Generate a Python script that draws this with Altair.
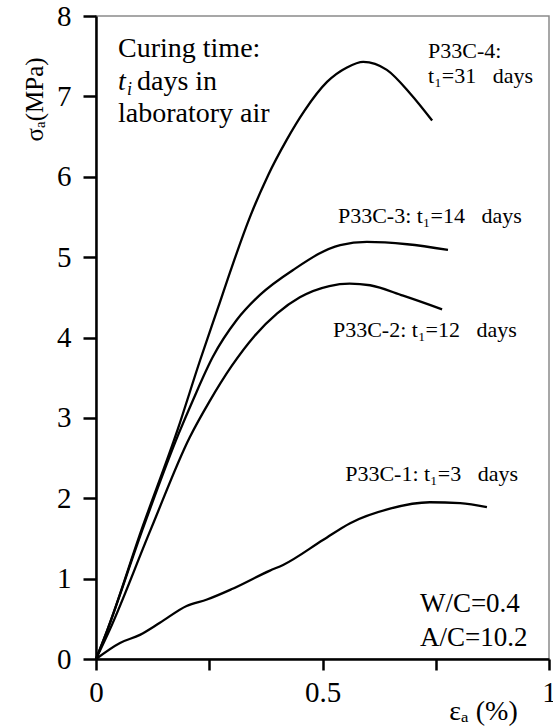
import altair as alt
import pandas as pd

# ---- curve data (strain %, stress MPa) ----
p4_strain = [0, 0.025, 0.10, 0.18, 0.23, 0.27, 0.30, 0.34, 0.38, 0.42, 0.46, 0.51, 0.554, 0.59, 0.642, 0.693, 0.742]
p4_stress = [0, 0.36, 1.60, 2.85, 3.72, 4.38, 4.88, 5.50, 6.02, 6.45, 6.82, 7.18, 7.36, 7.43, 7.33, 7.04, 6.70]

p3_strain = [0, 0.025, 0.102, 0.183, 0.214, 0.258, 0.311, 0.362, 0.435, 0.539, 0.598, 0.687, 0.777]
p3_stress = [0, 0.36, 1.60, 2.81, 3.22, 3.76, 4.22, 4.53, 4.84, 5.15, 5.19, 5.16, 5.09]

p2_strain = [0, 0.03, 0.12, 0.207, 0.25, 0.30, 0.35, 0.40, 0.45, 0.515, 0.56, 0.605, 0.678, 0.764]
p2_stress = [0, 0.36, 1.60, 2.76, 3.20, 3.65, 4.02, 4.30, 4.50, 4.64, 4.67, 4.65, 4.52, 4.35]

p1_strain = [0, 0.053, 0.097, 0.141, 0.20, 0.245, 0.30, 0.384, 0.413, 0.501, 0.561, 0.649, 0.737, 0.804, 0.863]
p1_stress = [0, 0.20, 0.30, 0.45, 0.66, 0.74, 0.87, 1.10, 1.17, 1.48, 1.69, 1.87, 1.95, 1.94, 1.89]

specimens = ["P33C-4", "P33C-3", "P33C-2", "P33C-1"]

x_ticks = [0, 0.25, 0.5, 0.75, 1]
y_ticks = [0, 1, 2, 3, 4, 5, 6, 7, 8]

NB = "\u00a0"
curve_labels = ["P33C-4:", "t₁=31" + NB * 3 + "days", "P33C-3: t₁=14" + NB * 3 + "days",
                "P33C-2: t₁=12" + NB * 3 + "days", "P33C-1: t₁=3" + NB * 3 + "days"]
curve_label_x = [0.733, 0.733, 0.534, 0.523, 0.550]
curve_label_y = [7.48, 7.17, 5.42, 4.01, 2.21]

note_lines = ["Curing time:", "laboratory air"]
note_x = [0.0486, 0.0486]
note_y = [7.49, 6.68]

mix_lines = ["W/C=0.4", "A/C=10.2"]
mix_x = [0.715, 0.715]
mix_y = [0.585, 0.16]

rows = []
for name, xs, ys in zip(specimens, [p4_strain, p3_strain, p2_strain, p1_strain],
                        [p4_stress, p3_stress, p2_stress, p1_stress]):
    for i, (xv, yv) in enumerate(zip(xs, ys)):
        rows.append({"specimen": name, "strain": xv, "stress": yv, "order": i})
df = pd.DataFrame(rows)

SERIF = "Liberation Serif, Times New Roman, serif"
xscale = alt.Scale(domain=[0, 1], nice=False)
yscale = alt.Scale(domain=[0, 8], nice=False)

lines = alt.Chart(df).mark_line(color="black", strokeWidth=2.3, interpolate="monotone").encode(
    x=alt.X("strain:Q", scale=xscale,
            axis=alt.Axis(values=x_ticks, format="~g",
                          labelExpr="(datum.value == 0.25 || datum.value == 0.75) ? '' : datum.label",
                          tickSize=11, labelPadding=8, labelOverlap=False, labelBound=False,
                          labelFlush=False,
                          title="εₐ (%)", titleX=387, titleY=60, titleAlign="center",
                          titleBaseline="alphabetic", titleFontSize=28)),
    y=alt.Y("stress:Q", scale=yscale,
            axis=alt.Axis(values=y_ticks, format="d", tickSize=13, labelPadding=12,
                          title="σₐ(MPa)", titleAngle=270, titleX=-54, titleY=83,
                          titleAlign="center", titleBaseline="alphabetic", titleFontSize=25)),
    detail="specimen:N",
    order="order:Q",
)

def text_layer(texts, xs, ys, size, style="normal", dy=0):
    d = pd.DataFrame({"strain": xs, "stress": ys, "label": texts})
    return alt.Chart(d).mark_text(align="left", baseline="alphabetic", font=SERIF,
                                  fontSize=size, fontStyle=style, color="black", dy=dy).encode(
        x=alt.X("strain:Q", scale=xscale),
        y=alt.Y("stress:Q", scale=yscale),
        text="label:N",
    )

notes = text_layer(note_lines, note_x, note_y, 28)
t_italic = text_layer(["t"], [0.0486], [7.08], 28, "italic")
i_sub = text_layer(["i"], [0.0684], [7.08], 18, "italic", dy=5)
days_in = text_layer(["days in"], [0.0905], [7.08], 28)
labels = text_layer(curve_labels, curve_label_x, curve_label_y, 22)
mix = text_layer(mix_lines, mix_x, mix_y, 27)

chart = alt.layer(lines, notes, t_italic, i_sub, days_in, labels, mix).properties(
    width=453, height=643,
    autosize=alt.AutoSizeParams(type="none"),
    padding={"left": 96, "top": 16, "right": 4, "bottom": 67},
    background="white",
).configure_view(
    stroke="#8a8a8a", strokeWidth=1.5
).configure_axis(
    grid=False, domainColor="black", domainWidth=2.5, tickColor="black", tickWidth=2.5,
    labelFont=SERIF, labelFontSize=29, labelColor="black",
    titleFont=SERIF, titleFontWeight="normal", titleColor="black",
)

chart.save("out.html", embed_options={"renderer": "svg", "actions": False})
